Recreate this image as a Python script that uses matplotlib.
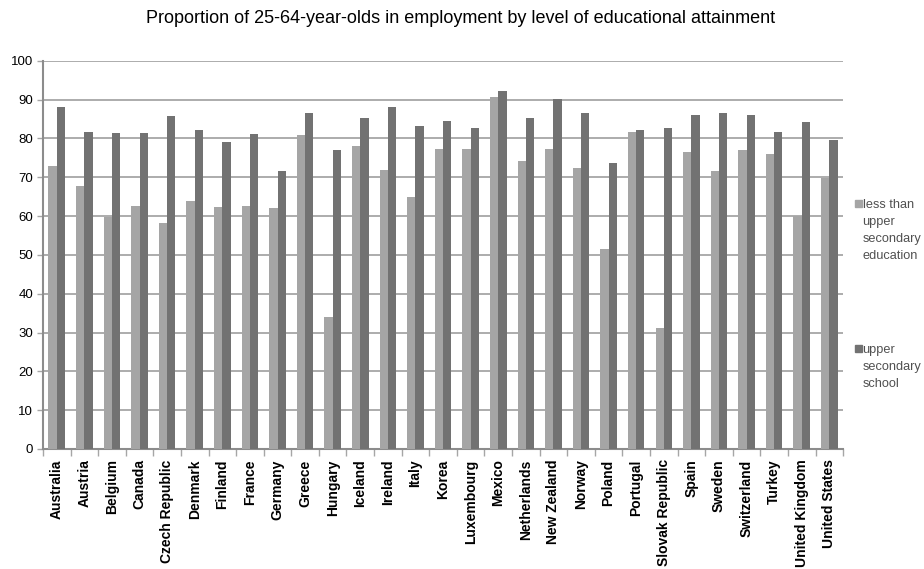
import matplotlib
matplotlib.use("Agg")
import matplotlib.pyplot as plt
import numpy as np
from matplotlib.patches import Rectangle

plt.rcParams['font.family'] = ['Liberation Sans', 'DejaVu Sans']

countries = ["Australia", "Austria", "Belgium", "Canada", "Czech Republic", "Denmark",
             "Finland", "France", "Germany", "Greece", "Hungary", "Iceland", "Ireland",
             "Italy", "Korea", "Luxembourg", "Mexico", "Netherlands", "New Zealand",
             "Norway", "Poland", "Portugal", "Slovak Republic", "Spain", "Sweden",
             "Switzerland", "Turkey", "United Kingdom", "United States"]
below_upper_secondary = [72.8, 67.8, 59.7, 62.7, 58.1, 63.8, 62.4, 62.7, 62.1, 80.8,
                         33.9, 78.1, 72.0, 64.8, 77.4, 77.4, 90.8, 74.2, 77.4, 72.5,
                         51.4, 81.7, 31.2, 76.4, 71.7, 77.0, 76.0, 60.0, 69.8]
upper_secondary = [88.0, 81.8, 81.5, 81.5, 85.8, 82.2, 79.0, 81.1, 71.7, 86.5,
                   77.0, 85.3, 88.2, 83.2, 84.6, 82.8, 92.2, 85.3, 90.1, 86.5,
                   73.8, 82.2, 82.6, 86.0, 86.5, 86.0, 81.8, 84.3, 79.6]
series_labels = [["less than", "upper", "secondary", "education"],
                 ["upper", "secondary", "school"]]
yticks = list(range(0, 101, 10))

light = "#a5a5a5"
dark = "#727272"
grid_c = "#a6a6a6"

fig = plt.figure(figsize=(9.24, 5.69), dpi=100)
ax = fig.add_axes([0.0465, 0.211, 0.866, 0.682])

x = np.arange(len(countries))
w = 0.3
ax.bar(x - w / 2, below_upper_secondary, width=w, color=light, zorder=3)
ax.bar(x + w / 2, upper_secondary, width=w, color=dark, zorder=3)

ax.set_xlim(-0.5, len(countries) - 0.5)
ax.set_ylim(0, 100)
ax.set_yticks(yticks)
ax.yaxis.grid(True, color=grid_c, linewidth=1.3, zorder=0)
ax.set_axisbelow(True)

# category labels, with tick marks on the category boundaries
ax.set_xticks(x)
ax.set_xticklabels(countries, rotation=90, fontsize=10, fontweight='bold')
ax.tick_params(axis='x', length=0, pad=7.5)
ax.set_xticks(np.arange(-0.5, len(countries)), minor=True)
ax.tick_params(axis='x', which='minor', length=5, color=grid_c, width=1)
ax.tick_params(axis='y', length=4, color=grid_c, width=1, labelsize=9.5, pad=3)

for s in ['top', 'right']:
    ax.spines[s].set_visible(False)
for s in ['left', 'bottom']:
    ax.spines[s].set_color("#8c8c8c")
    ax.spines[s].set_linewidth(1.5)

fig.text(0.498, 0.968, "Proportion of 25-64-year-olds in employment by level of educational attainment",
         ha='center', va='center', fontsize=13)

# legend on the right: a small swatch beside the first line of each label
line_step = 17 / 569
for (y0, col, lines) in [(0.6432, light, series_labels[0]), (0.3884, dark, series_labels[1])]:
    fig.patches.append(Rectangle((0.9253, y0 - 0.0062), 0.0076, 0.0123,
                                 transform=fig.transFigure, color=col, figure=fig))
    for i, txt in enumerate(lines):
        fig.text(0.9335, y0 - i * line_step, txt, ha='left', va='center_baseline',
                 fontsize=9.2, color="#505050")

fig.savefig("out.png", dpi=100)
